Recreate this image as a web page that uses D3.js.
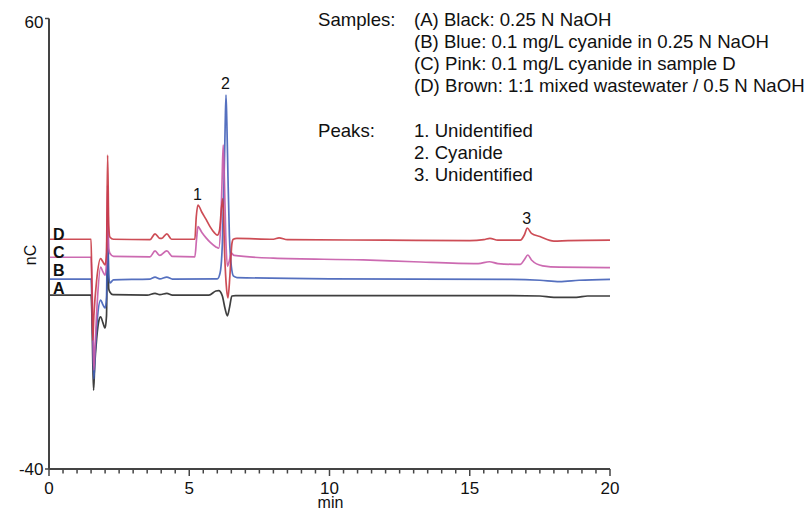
<!DOCTYPE html>
<html><head><meta charset="utf-8">
<script src="https://cdn.jsdelivr.net/npm/d3@7/dist/d3.min.js"></script>
<style>html,body{margin:0;padding:0;background:#fff;} svg{display:block;font-family:"Liberation Sans",Arial,Helvetica,sans-serif;}</style>
</head><body>
<svg id="chart" width="808" height="510"></svg>
<script>
// ---- data (time in min, response in nC) ----
const seriesA = [[0,-1.4],[1.50,-1.4],[1.53,-6],[1.56,-16],[1.59,-22.5],[1.63,-17],[1.70,-11],[1.78,-7],[1.84,-6.2],[1.92,-7.5],[2.00,-8.7],[2.05,-6],[2.09,13],[2.13,0],[2.17,-0.7],[2.28,-1.3],[3.5,-1.4],[3.78,-1.0],[3.95,-1.3],[4.2,-1.0],[4.4,-1.4],[5.7,-1.4],[5.95,-0.5],[6.05,-0.4],[6.18,-1.6],[6.28,-4.5],[6.36,-6.0],[6.44,-4],[6.52,-1.6],[6.65,-1.5],[16.0,-1.5],[16.5,-1.5],[17.5,-1.6],[18.0,-1.9],[18.8,-1.9],[19.2,-1.6],[20,-1.6]];
const seriesB = [[0,2.15],[1.50,2.15],[1.53,-3],[1.57,-14],[1.60,-20],[1.64,-15],[1.72,-7],[1.84,-2.5],[1.92,-3.5],[2.00,-4.3],[2.05,-2],[2.09,17],[2.13,3],[2.17,1.3],[2.30,2.0],[3.6,2.15],[3.78,2.6],[3.95,2.2],[4.2,2.6],[4.4,2.15],[6.00,2.2],[6.10,3.5],[6.18,10],[6.24,24],[6.28,36],[6.31,43],[6.34,37],[6.38,25],[6.43,12],[6.50,5],[6.58,2.8],[6.7,2.5],[10,2.2],[16.5,2.1],[17.5,1.9],[18.2,1.6],[18.9,1.9],[20,2.1]];
const seriesC = [[0,7.0],[1.50,7.0],[1.53,2],[1.57,-10],[1.60,-18],[1.64,-13],[1.72,-3],[1.84,4.8],[1.92,3.8],[2.00,3.0],[2.05,6],[2.09,23],[2.13,9],[2.17,7.9],[2.30,7.2],[3.6,7.1],[3.78,8.4],[3.95,7.4],[4.2,8.4],[4.4,7.2],[5.20,7.1],[5.26,11],[5.31,13.8],[5.45,12.5],[5.6,11.3],[5.75,10.3],[5.95,9.3],[6.05,9],[6.12,14],[6.17,24],[6.21,31.9],[6.25,25],[6.30,12],[6.36,5],[6.42,6],[6.50,7.9],[6.6,7.4],[8,6.8],[11.2,6.4],[13,6.0],[15.3,5.6],[15.7,6.0],[16.0,5.6],[16.8,5.4],[16.95,6.5],[17.07,7.5],[17.2,6.4],[17.6,5.1],[18.2,4.8],[20,4.7]];
const seriesD = [[0,11],[1.50,11],[1.53,0],[1.56,-11.4],[1.60,-6],[1.70,2],[1.84,6.7],[1.92,6.0],[2.00,5.3],[2.05,8],[2.09,29.7],[2.13,14],[2.17,11.5],[2.30,11.0],[3.6,10.9],[3.78,12.2],[3.95,11.2],[4.02,11.2],[4.2,12.2],[4.37,11.0],[5.20,11.0],[5.25,16],[5.31,18.6],[5.45,17],[5.6,15.4],[5.74,13.8],[5.9,12.4],[6.0,11.9],[6.08,13],[6.15,18],[6.2,20],[6.26,8],[6.33,0],[6.38,-2],[6.45,3],[6.52,10],[6.57,11.0],[6.7,11.2],[8.0,11.0],[8.2,11.3],[8.5,10.9],[12,10.8],[15.0,10.7],[15.5,10.9],[15.72,11.2],[16.0,10.8],[16.8,10.8],[16.95,12.0],[17.05,13.5],[17.2,12.3],[17.5,11.6],[18.0,10.6],[18.5,10.7],[20,10.8]];
const seriesNames = ["A","B","C","D"];
const seriesColors = ["#2a2a2a","#4361b8","#c75aa8","#c83a44"];
const xTicks = [0,5,10,15,20];
const yTicks = [60,-40];
const sampleLines = ["(A) Black: 0.25 N NaOH","(B) Blue: 0.1 mg/L cyanide in 0.25 N NaOH","(C) Pink: 0.1 mg/L cyanide in sample D","(D) Brown: 1:1 mixed wastewater / 0.5 N NaOH"];
const peakLines = ["1. Unidentified","2. Cyanide","3. Unidentified"];
const peakLabels = [{n:"1",t:5.31},{n:"2",t:6.31},{n:"3",t:17.05}];

const svg = d3.select("#chart");
const x = d3.scaleLinear().domain([0,20]).range([49,610]);
const y = d3.scaleLinear().domain([-40,60]).range([469,18.5]);

// lines
const line = d3.line().x(d=>x(d[0])).y(d=>y(d[1])).curve(d3.curveMonotoneX);
const allSeries = [seriesA,seriesB,seriesC,seriesD];
allSeries.forEach((s,i)=>{
  svg.append("path").datum(s).attr("d",line).attr("fill","none")
    .attr("stroke",seriesColors[i]).attr("stroke-width",1.7).attr("stroke-linejoin","round").attr("opacity",0.9);
});

// axes
const axisColor = "#444";
const xMinor = d3.range(0,20.001,0.5);
const gx = svg.append("g");
gx.append("line").attr("x1",x(0)).attr("x2",x(20)).attr("y1",y(-40)).attr("y2",y(-40)).attr("stroke",axisColor).attr("stroke-width",2);
gx.selectAll("line.tk").data(xMinor).enter().append("line").attr("class","tk")
  .attr("x1",d=>x(d)).attr("x2",d=>x(d)).attr("y1",y(-40)).attr("y2",d=>y(-40)+(d%5===0?7:4.5))
  .attr("stroke",axisColor).attr("stroke-width",1.5);
gx.selectAll("text").data(xTicks).enter().append("text")
  .attr("x",d=>x(d)).attr("y",494).attr("text-anchor","middle").attr("font-size",17).attr("fill","#111").text(d=>d);
svg.append("text").attr("x",(x(10)+1)).attr("y",507.5).attr("text-anchor","middle").attr("font-size",16).attr("fill","#111").text("min");

const gy = svg.append("g");
gy.append("line").attr("x1",x(0)).attr("x2",x(0)).attr("y1",y(60)).attr("y2",y(-40)).attr("stroke",axisColor).attr("stroke-width",2);
gy.selectAll("line.tk").data(yTicks).enter().append("line").attr("class","tk")
  .attr("x1",x(0)-4).attr("x2",x(0)).attr("y1",d=>y(d)).attr("y2",d=>y(d)).attr("stroke",axisColor).attr("stroke-width",1.5);
gy.selectAll("text").data(yTicks).enter().append("text")
  .attr("x",43.5).attr("y",d=>d===60?28:474.5).attr("text-anchor","end").attr("font-size",17).attr("fill","#111").text(d=>d);
svg.append("text").attr("transform","translate(36,255) rotate(-90)").attr("text-anchor","middle").attr("font-size",16).attr("fill","#111").text("nC");

// series letter labels
const labelY = [294,276,257.5,239.5];
seriesNames.forEach((n,i)=>{
  svg.append("text").attr("x",53).attr("y",labelY[i]).attr("font-size",16).attr("font-weight","bold").attr("fill","#111").text(n);
});

// peak labels
const peakBase = [200,89.3,224];
peakLabels.forEach((p,i)=>{
  svg.append("text").attr("x",x(p.t)-0.5).attr("y",peakBase[i]).attr("text-anchor","middle").attr("font-size",16).attr("fill","#111").text(p.n);
});

// legend
const lg = svg.append("g").attr("font-size",18.6).attr("fill","#111");
lg.append("text").attr("x",318).attr("y",25.5).text("Samples:");
sampleLines.forEach((t,i)=>lg.append("text").attr("x",414).attr("y",25.5+i*22.2).text(t));
lg.append("text").attr("x",318).attr("y",136.5).text("Peaks:");
peakLines.forEach((t,i)=>lg.append("text").attr("x",414).attr("y",136.5+i*22).text(t));
</script>
</body></html>
